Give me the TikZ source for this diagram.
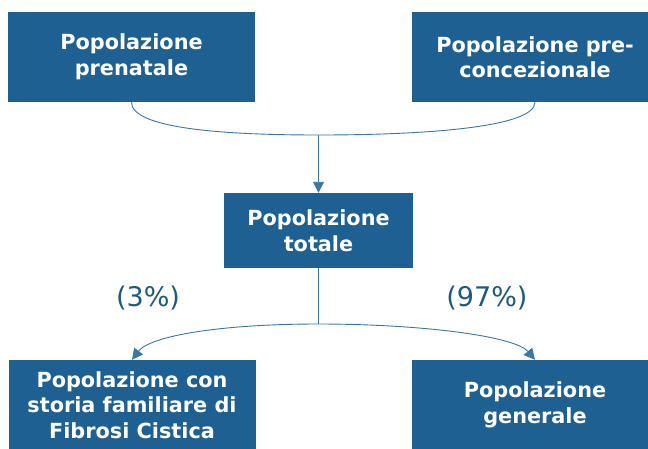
\documentclass[tikz,border=0pt]{standalone}
\usepackage{fontspec}
\setmainfont{DejaVu Sans}
\usepackage{xcolor}
\definecolor{cBox}{HTML}{1F6092}
\definecolor{cLine}{HTML}{3A76A6}
\definecolor{cLabel}{HTML}{1D5B7B}
\usepackage{tikz}
\usetikzlibrary{positioning,arrows.meta}
\tikzset{
  node-box/.style={fill=cBox,text=white,inner sep=0pt,align=center,
    font=\fontsize{20.8}{25.5}\selectfont\bfseries},
  node-pct/.style={text=cLabel,font=\fontsize{27}{30}\selectfont},
  link/.style={draw=cLine,line width=0.9pt},
  arrow/.style={link,-{Triangle[length=11pt,width=11pt]}},
}
\begin{document}
\begin{tikzpicture}[x=1pt,y=-1pt]
  \useasboundingbox (0,0) rectangle (648,448);
  \clip (0,0) rectangle (648,448);
  % sorgenti
  \node[node-box,minimum width=247pt,minimum height=90pt] (prenat) at (131.5,57)
    {Popolazione\\prenatale};
  \node[node-box,minimum width=247pt,minimum height=90pt] (precon) at (535,57)
    {Popolazione pre-\\concezionale};
  % totale
  \node[node-box,minimum width=189pt,minimum height=75pt] (totale) at (318.5,230.5)
    {Popolazione\\totale};
  % destinazioni
  \node[node-box,minimum width=247pt,minimum height=90pt] (storia) at (132,405)
    {Popolazione con\\storia familiare di\\Fibrosi Cistica};
  \node[node-box,minimum width=247pt,minimum height=90pt] (generale) at (535,405)
    {Popolazione\\generale};
  \node[node-pct] (pctA) at (148,298) {(3\%)};
  \node[node-pct] (pctB) at (487,298) {(97\%)};
  % unione
  \coordinate (merge) at (318.5,135);
  \draw[link] (prenat.south) .. controls (131.5,128) and (220,135) .. (merge);
  \draw[link] (precon.south) .. controls (535,128) and (420,135) .. (merge);
  \draw[arrow] (merge) -- (totale.north);
  % divisione
  \coordinate (split) at (318.5,324);
  \draw[link] (totale.south) -- (split);
  \draw[arrow] (split) .. controls (220,324) and (150,336) .. (storia.north);
  \draw[arrow] (split) .. controls (420,324) and (515,336) .. (generale.north);
\end{tikzpicture}
\end{document}
